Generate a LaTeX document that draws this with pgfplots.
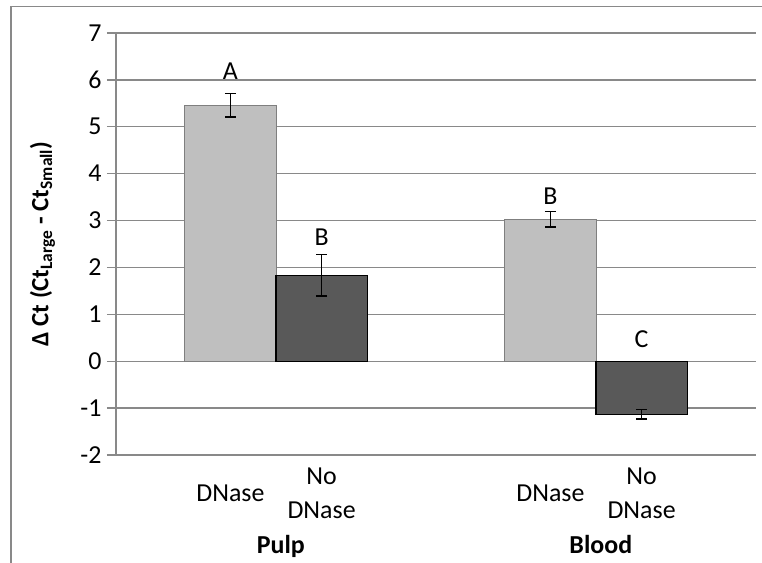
\documentclass[border=0pt]{standalone}
\usepackage{fontspec}
\setmainfont{Carlito}
\usepackage{pgfplots}
\pgfplotsset{compat=1.18}
\definecolor{gridgray}{HTML}{898989}
\definecolor{lightbar}{HTML}{BFBFBF}
\definecolor{darkbar}{HTML}{595959}
\definecolor{lightedge}{HTML}{7F7F7F}
\newcommand{\lab}{\fontsize{26}{34}\selectfont}
\begin{document}
\begin{tikzpicture}
\useasboundingbox (-116bp,-108bp) rectangle (646bp,455bp);
\draw[gridgray, line width=1.2bp] (-105bp,-120bp) -- (-105bp,448.5bp) -- (660bp,448.5bp);
\begin{axis}[
  at={(0,0)}, anchor=south west,
  scale only axis, width=640bp, height=422bp,
  xmin=0, xmax=2, ymin=-2, ymax=7,
  ytick={-2,-1,0,1,2,3,4,5,6,7},
  xtick=\empty,
  axis x line*=bottom, axis y line*=left,
  axis line style={gridgray, line width=1.3bp, -},
  ymajorgrids, grid style={gridgray, line width=1.3bp},
  tick align=outside, major tick length=9bp,
  every tick/.style={gridgray, line width=1.3bp},
  /pgf/number format/assume math mode=true,
  yticklabel style={font=\lab, black, xshift=-2bp},
  ylabel={\bfseries Δ Ct (Ct\textsubscript{Large} - Ct\textsubscript{Small})},
  ylabel style={font=\fontsize{25}{30}\selectfont, at={(axis description cs:-0.1148,0.5)}, anchor=center},
  clip=false,
]
\addplot[ybar, bar width=0.285, bar shift=0pt, fill=lightbar, draw=lightedge, line width=1bp,
  error bars/.cd, y dir=both, y explicit,
  error bar style={black, line width=1.3bp},
  error mark options={black, line width=1.3bp, mark size=5.5bp, rotate=90}]
  coordinates {(0.3575,5.46) +- (0,0.25) (1.3575,3.03) +- (0,0.17)};
\addplot[ybar, bar width=0.285, bar shift=0pt, fill=darkbar, draw=black, line width=1.3bp,
  error bars/.cd, y dir=both, y explicit,
  error bar style={black, line width=1.3bp},
  error mark options={black, line width=1.3bp, mark size=5.5bp, rotate=90}]
  coordinates {(0.6425,1.83) +- (0,0.44) (1.6425,-1.13) +- (0,0.1)};
\node[font=\lab] at (axis cs:0.3575,6.19) {A};
\node[font=\lab] at (axis cs:0.6425,2.64) {B};
\node[font=\lab] at (axis cs:1.3575,3.53) {B};
\node[font=\lab] at (axis cs:1.6425,0.48) {C};
\node[font=\lab, align=center, anchor=center, yshift=-38bp] at (axis cs:0.3575,-2) {DNase};
\node[font=\lab, align=center, anchor=center, yshift=-38bp] at (axis cs:0.6425,-2) {No\\DNase};
\node[font=\lab, align=center, anchor=center, yshift=-38bp] at (axis cs:1.3575,-2) {DNase};
\node[font=\lab, align=center, anchor=center, yshift=-38bp] at (axis cs:1.6425,-2) {No\\DNase};
\node[font=\lab\bfseries, anchor=base, yshift=-98bp] at (axis cs:0.515,-2) {Pulp};
\node[font=\lab\bfseries, anchor=base, yshift=-98bp] at (axis cs:1.515,-2) {Blood};
\end{axis}
\end{tikzpicture}
\end{document}
